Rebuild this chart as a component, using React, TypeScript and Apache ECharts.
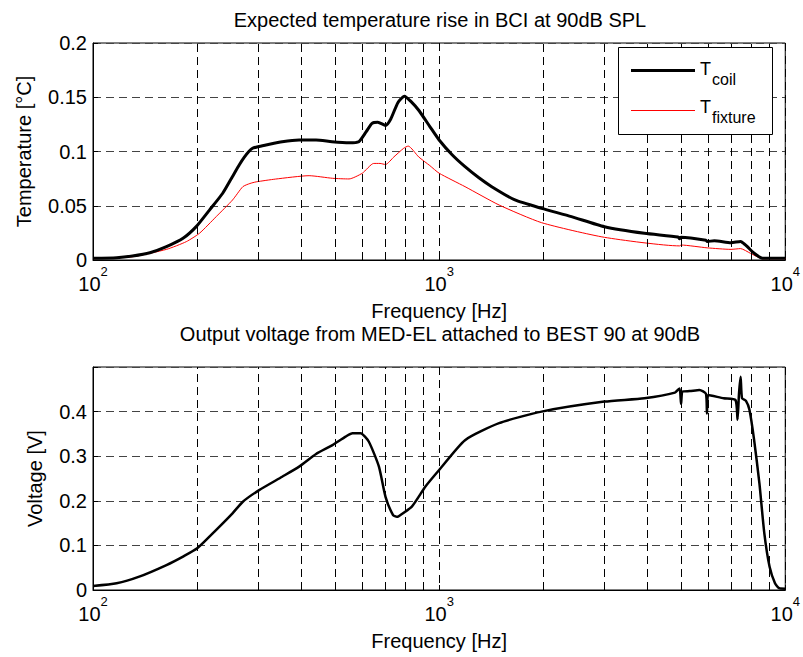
import React, { useEffect, useRef } from "react";
import * as echarts from "echarts";

// ---------- data ----------
const tempFreq = [100, 117, 130, 146, 163, 182, 199, 217, 237, 253, 265, 274, 282, 289, 300, 316, 352, 394, 441, 490, 549, 586, 615, 640, 665, 700, 725, 760, 794, 830, 873, 940, 1000, 1090, 1188, 1300, 1419, 1656, 1977, 2411, 3004, 3918, 4900, 4950, 5000, 5900, 5950, 6240, 6970, 7430, 7600, 7770, 8130, 8600, 10000];
const tCoil = [0.0016, 0.0021, 0.0037, 0.0067, 0.0123, 0.020, 0.031, 0.046, 0.0615, 0.077, 0.088, 0.095, 0.100, 0.103, 0.1045, 0.106, 0.109, 0.1106, 0.1106, 0.109, 0.108, 0.109, 0.118, 0.126, 0.127, 0.124, 0.13, 0.145, 0.151, 0.146, 0.138, 0.123, 0.1106, 0.097, 0.086, 0.076, 0.0676, 0.0553, 0.0476, 0.040, 0.0307, 0.0246, 0.0212, 0.0195, 0.0209, 0.0182, 0.0170, 0.0178, 0.016, 0.017, 0.015, 0.0123, 0.0062, 0.0016, 0.0016];

const fixtureFreq = [100, 130, 163, 186, 203, 227, 253, 271, 284, 296, 337, 421, 492, 549, 600, 647, 675, 700, 740, 790, 814, 873, 940, 1000, 1188, 1490, 1977, 3004, 4950, 5000, 5950, 6970, 7430, 7930, 8600, 10000];
const tFixture = [0.0012, 0.003, 0.0098, 0.0169, 0.0246, 0.040, 0.0553, 0.0676, 0.0705, 0.072, 0.0746, 0.0777, 0.0753, 0.0747, 0.080, 0.089, 0.089, 0.088, 0.095, 0.103, 0.105, 0.095, 0.087, 0.080, 0.0676, 0.0507, 0.0344, 0.0209, 0.0130, 0.0138, 0.0112, 0.0098, 0.0105, 0.0062, 0.0012, 0.0012];

const voltFreq = [100, 117, 136, 163, 182, 200, 227, 253, 271, 302, 352, 394, 441, 492, 537, 562, 593, 626, 670, 700, 736, 755, 762, 834, 913, 1000, 1188, 1490, 1977, 3004, 3918, 4800, 4950, 5000, 5050, 5300, 5650, 5900, 5940, 5990, 6640, 7180, 7280, 7350, 7430, 7500, 7700, 7880, 8130, 8420, 8700, 9010, 9340, 9600, 10000];
const voltage = [0.009, 0.015, 0.030, 0.056, 0.075, 0.0935, 0.135, 0.172, 0.198, 0.224, 0.254, 0.2766, 0.305, 0.325, 0.344, 0.3515, 0.3515, 0.333, 0.2766, 0.209, 0.168, 0.164, 0.165, 0.187, 0.232, 0.269, 0.336, 0.374, 0.400, 0.4224, 0.43, 0.4426, 0.452, 0.417, 0.445, 0.446, 0.4486, 0.44, 0.396, 0.437, 0.43, 0.426, 0.382, 0.44, 0.478, 0.43, 0.424, 0.404, 0.336, 0.239, 0.127, 0.052, 0.015, 0.004, 0.003];

const minorGridFreqs = [200, 300, 400, 500, 600, 700, 800, 900, 2000, 3000, 4000, 5000, 6000, 7000, 8000, 9000];

const topTitle = "Expected temperature rise in BCI at 90dB SPL";
const bottomTitle = "Output voltage from MED-EL attached to BEST 90 at 90dB";
const xName = "Frequency [Hz]";
const topYName = "Temperature [\u00B0C]";
const bottomYName = "Voltage [V]";

const FONT = "'Liberation Sans', Arial, Helvetica, sans-serif";

const zip = (xs: number[], ys: number[]) => xs.map((x, i) => [x, ys[i]]);

export default function App() {
  const ref = useRef<HTMLDivElement>(null);

  useEffect(() => {
    document.body.style.margin = "0";
    const chart = echarts.init(ref.current!, null, { renderer: "svg" });

    const xAxisBase = (gridIndex: number) => ({
      type: "log",
      logBase: 10,
      min: 100,
      max: 10000,
      gridIndex,
      name: xName,
      nameLocation: "middle",
      nameGap: 41,
      nameTextStyle: { fontSize: 20, color: "#000", fontFamily: FONT },
      axisLine: { show: true, onZero: false, lineStyle: { color: "#000", width: 1 } },
      axisTick: { show: true, inside: true, length: 5, lineStyle: { color: "#000" } },
      axisLabel: {
        margin: 5,
        formatter: (v: number) => `{b|10}{s|${Math.round(Math.log10(v))}}`,
        rich: {
          b: { fontSize: 20, color: "#000", fontFamily: FONT, verticalAlign: "bottom" },
          s: { fontSize: 13, color: "#000", fontFamily: FONT, verticalAlign: "top", padding: [0, 0, 16, 0] },
        },
      },
      splitLine: { show: true, lineStyle: { color: "#000", type: [8, 5], width: 1 } },
    });

    const yAxisBase = (gridIndex: number, max: number, interval: number, name: string, gap: number, hideMax: boolean) => ({
      type: "value",
      gridIndex,
      min: 0,
      max,
      interval,
      name,
      nameLocation: "middle",
      nameGap: gap,
      nameRotate: 90,
      nameTextStyle: { fontSize: 20, color: "#000", fontFamily: FONT },
      axisLine: { show: true, lineStyle: { color: "#000", width: 1 } },
      axisTick: { show: true, inside: true, length: 5, lineStyle: { color: "#000" } },
      axisLabel: {
        margin: 6,
        fontSize: 20,
        color: "#000",
        fontFamily: FONT,
        formatter: (v: number) => {
          if (hideMax && v > max - 1e-9) return "";
          return String(Math.round(v * 1000) / 1000);
        },
      },
      splitLine: { show: true, lineStyle: { color: "#444", type: [8, 5], width: 1 } },
    });

    const gridMarkLine = (xi: number) => ({
      type: "line",
      xAxisIndex: xi,
      yAxisIndex: xi,
      data: [],
      z: 1,
      silent: true,
      markLine: {
        silent: true,
        symbol: ["none", "none"],
        label: { show: false },
        lineStyle: { color: "#000", type: [8, 5], width: 1 },
        data: minorGridFreqs.map((f) => ({ xAxis: f })),
      },
    });

    const option: any = {
      animation: false,
      backgroundColor: "#fff",
      textStyle: { fontFamily: FONT },
      grid: [
        { left: 93, top: 43, width: 695, height: 217, show: true, borderColor: "#000", borderWidth: 1, backgroundColor: "transparent" },
        { left: 93, top: 367, width: 695, height: 223, show: true, borderColor: "#000", borderWidth: 1, backgroundColor: "transparent" },
      ],
      xAxis: [xAxisBase(0), xAxisBase(1)],
      yAxis: [
        yAxisBase(0, 0.2, 0.05, topYName, 59, false),
        yAxisBase(1, 0.5, 0.1, bottomYName, 48, true),
      ],
      series: [
        gridMarkLine(0),
        gridMarkLine(1),
        {
          name: "T_fixture",
          type: "line",
          xAxisIndex: 0,
          yAxisIndex: 0,
          data: zip(fixtureFreq, tFixture),
          showSymbol: false,
          symbol: "none",
          smooth: 0.2,
          z: 3,
          lineStyle: { color: "#ff0000", width: 1 },
        },
        {
          name: "T_coil",
          type: "line",
          xAxisIndex: 0,
          yAxisIndex: 0,
          data: zip(tempFreq, tCoil),
          showSymbol: false,
          symbol: "none",
          smooth: 0.2,
          z: 4,
          lineStyle: { color: "#000", width: 3 },
        },
        {
          name: "Voltage",
          type: "line",
          xAxisIndex: 1,
          yAxisIndex: 1,
          data: zip(voltFreq, voltage),
          showSymbol: false,
          symbol: "none",
          smooth: 0.2,
          z: 4,
          lineStyle: { color: "#000", width: 2.5 },
        },
      ],
      graphic: [
        { type: "text", x: 440, y: 20, z: 10, style: { text: topTitle, fontSize: 20, fill: "#000", fontFamily: FONT, align: "center", verticalAlign: "middle" } },
        { type: "text", x: 440, y: 334, z: 10, style: { text: bottomTitle, fontSize: 20, fill: "#000", fontFamily: FONT, align: "center", verticalAlign: "middle" } },
        { type: "rect", z: 10, shape: { x: 618.5, y: 47.5, width: 154, height: 87 }, style: { fill: "#fff", stroke: "#000", lineWidth: 1 } },
        { type: "line", z: 11, shape: { x1: 631, y1: 70.5, x2: 695, y2: 70.5 }, style: { stroke: "#000", lineWidth: 3 } },
        { type: "text", z: 11, x: 700, y: 69, style: { text: "T", fontSize: 18, fill: "#000", fontFamily: FONT, verticalAlign: "middle" } },
        { type: "text", z: 11, x: 712, y: 79, style: { text: "coil", fontSize: 16, fill: "#000", fontFamily: FONT, verticalAlign: "middle" } },
        { type: "line", z: 11, shape: { x1: 631, y1: 110.5, x2: 695, y2: 110.5 }, style: { stroke: "#ff0000", lineWidth: 1 } },
        { type: "text", z: 11, x: 700, y: 107, style: { text: "T", fontSize: 18, fill: "#000", fontFamily: FONT, verticalAlign: "middle" } },
        { type: "text", z: 11, x: 712, y: 117, style: { text: "fixture", fontSize: 16, fill: "#000", fontFamily: FONT, verticalAlign: "middle" } },
      ],
    };

    chart.setOption(option);
    return () => chart.dispose();
  }, []);

  return <div ref={ref} style={{ width: 803, height: 657, background: "#fff" }} />;
}
